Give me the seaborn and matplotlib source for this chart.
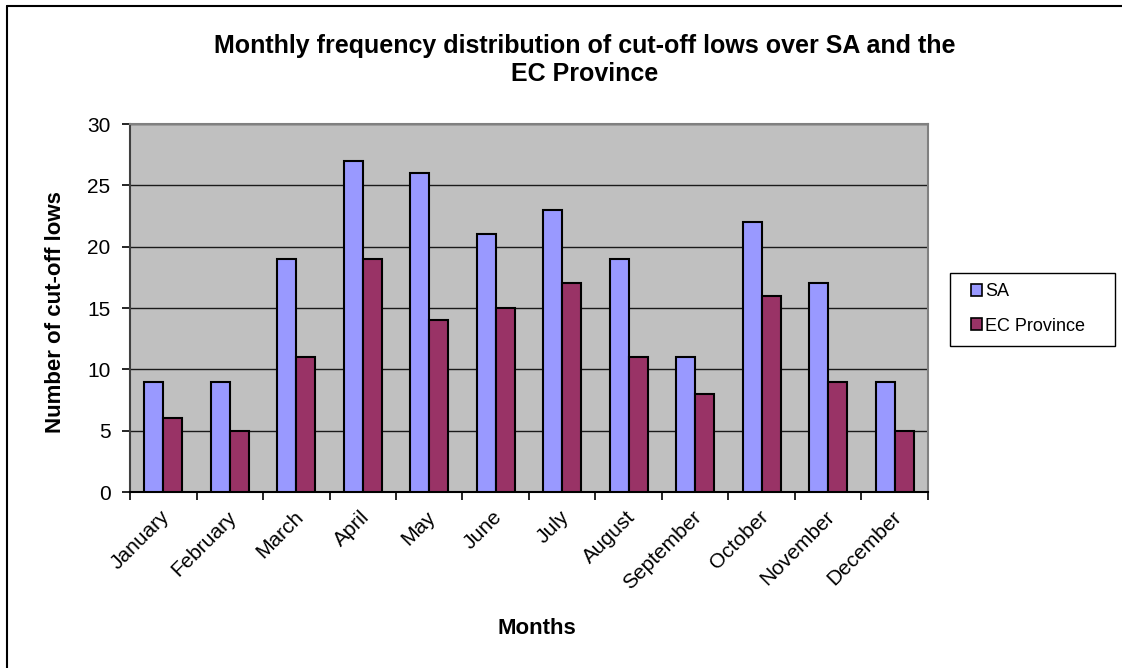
import numpy as np
import pandas as pd
import matplotlib
matplotlib.use("Agg")
import matplotlib.pyplot as plt
from matplotlib.patches import Patch, Rectangle
from matplotlib.lines import Line2D
from matplotlib.transforms import ScaledTranslation
import seaborn as sns

months = ["January", "February", "March", "April", "May", "June", "July",
          "August", "September", "October", "November", "December"]
sa_counts = [9, 9, 19, 27, 26, 21, 23, 19, 11, 22, 17, 9]
ec_counts = [6, 5, 11, 19, 14, 15, 17, 11, 8, 16, 9, 5]
series_names = ["SA", "EC Province"]
series_colors = ["#9999FF", "#993366"]
y_ticks = [0, 5, 10, 15, 20, 25, 30]

df = pd.DataFrame({
    "Month": months * 2,
    "Count": sa_counts + ec_counts,
    "Series": [series_names[0]] * len(months) + [series_names[1]] * len(months),
})

sns.set_style("white")
plt.rcParams["font.family"] = ["Liberation Sans", "DejaVu Sans"]
for key in ["text.color", "axes.labelcolor", "xtick.color", "ytick.color"]:
    plt.rcParams[key] = "black"

W, H = 1122, 668
fig = plt.figure(figsize=(W / 100, H / 100), dpi=100)
ax = fig.add_axes([130 / W, 1 - 492 / H, (928 - 130) / W, (492 - 124) / H])
ax.set_facecolor("#C0C0C0")

sns.barplot(data=df, x="Month", y="Count", hue="Series", order=months,
            hue_order=series_names, palette=series_colors, width=2 / 3.5,
            edgecolor="black", linewidth=1.5, saturation=1, ax=ax,
            legend=False, zorder=3)

ax.set_xlim(-0.5, len(months) - 0.5)
ax.set_ylim(0, 30)
ax.set_yticks(y_ticks)
ax.yaxis.grid(True, color="#1a1a1a", linewidth=1.0, zorder=0)
ax.set_axisbelow(True)

# category boundary ticks on the x axis, labels at the centres
ax.set_xticks(np.arange(len(months)))
ax.set_xticks(np.arange(-0.5, len(months)), minor=True)
ax.tick_params(axis="x", which="major", length=0, pad=11)
ax.tick_params(axis="x", which="minor", length=6, width=1.2, color="black",
               direction="out", bottom=True)
ax.tick_params(axis="y", length=6, width=1.2, color="black", direction="out",
               left=True, labelsize=15, pad=8)
ax.set_xticklabels(months, rotation=45, ha="right", va="top",
                   rotation_mode="anchor", fontsize=15)
shift = ScaledTranslation(-3 / 100, 0, fig.dpi_scale_trans)
for lbl in ax.get_xticklabels():
    lbl.set_transform(lbl.get_transform() + shift)

for side, col, lw in [("left", "#404040", 1.5), ("bottom", "black", 1.5),
                      ("top", "#808080", 1.5), ("right", "#808080", 1.5)]:
    ax.spines[side].set_visible(True)
    ax.spines[side].set_color(col)
    ax.spines[side].set_linewidth(lw)

ax.set_xlabel("Months", fontsize=16, fontweight="bold", va="center")
ax.xaxis.set_label_coords((537 - 130) / 798, (492 - 628) / 368)
ax.set_ylabel("Number of cut-off lows", fontsize=16, fontweight="bold",
              va="center")
ax.yaxis.set_label_coords((55 - 130) / 798, (492 - 312) / 368)

fig.text(585 / W, 1 - 60 / H,
         "Monthly frequency distribution of cut-off lows over SA and the\nEC Province",
         ha="center", va="center", fontsize=18, fontweight="bold",
         linespacing=1.25)

# legend: framed box with small square swatches
fig.add_artist(Rectangle((950 / W, 1 - 346 / H), (1115 - 950) / W, (346 - 273) / H,
                         transform=fig.transFigure, facecolor="white",
                         edgecolor="black", linewidth=1.0))
handles = [Patch(facecolor=c, edgecolor="black", linewidth=1.2) for c in series_colors]
leg = fig.legend(handles, series_names, loc="center left",
                 bbox_to_anchor=(971 / W, 1 - 309 / H),
                 frameon=False, fontsize=13,
                 handlelength=0.6, handleheight=0.6, handletextpad=0.2,
                 labelspacing=0.95, borderpad=0, borderaxespad=0)

# outer chart border (left and top edges)
fig.add_artist(Line2D([7 / W, 7 / W], [0, 1 - 6 / H],
                      transform=fig.transFigure, color="black", linewidth=1.5))
fig.add_artist(Line2D([7 / W, 1], [1 - 6 / H, 1 - 6 / H],
                      transform=fig.transFigure, color="black", linewidth=1.5))

fig.savefig("out.png", dpi=100, facecolor="white")
